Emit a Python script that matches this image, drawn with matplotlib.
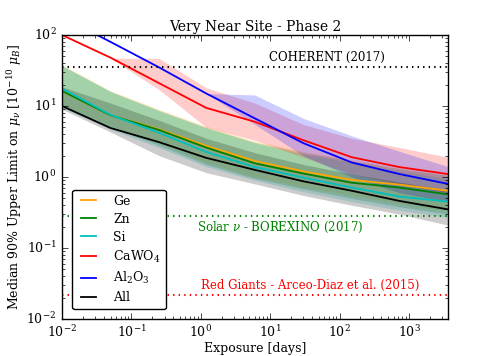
import matplotlib
matplotlib.use("Agg")
import matplotlib.pyplot as plt
import numpy as np

plt.style.use("classic")
plt.rcParams['font.family'] = 'serif'
plt.rcParams['font.serif'] = ['DejaVu Serif']
plt.rcParams['mathtext.fontset'] = 'dejavuserif'

exposure = [0.01, 0.05, 0.25, 1.2, 6, 30, 150, 730, 3650]

ge_med = [16.3, 7.4, 4.7, 2.75, 1.68, 1.2, 0.91, 0.78, 0.64]
ge_lo = [10.5, 5.3, 3.0, 1.6, 1.0, 0.72, 0.55, 0.42, 0.33]
ge_hi = [38, 16.5, 9.0, 5.2, 3.2, 2.3, 1.75, 1.35, 1.1]

zn_med = [16.3, 7.4, 4.6, 2.6, 1.56, 1.12, 0.83, 0.71, 0.57]
zn_lo = [10.0, 5.0, 2.8, 1.5, 0.95, 0.68, 0.5, 0.38, 0.3]
zn_hi = [37, 16, 8.7, 5.0, 3.1, 2.2, 1.7, 1.3, 1.05]

si_med = [17.6, 7.5, 4.2, 2.25, 1.38, 0.98, 0.71, 0.53, 0.45]
si_lo = [9.5, 4.7, 2.6, 1.4, 0.9, 0.62, 0.45, 0.34, 0.27]
si_hi = [37, 16, 8.5, 4.9, 3.0, 2.1, 1.6, 1.2, 0.95]

ca_med = [100, 48, 21, 9.4, 6.0, 3.3, 1.9, 1.38, 1.1]
ca_lo = [100, 47, 17, 5.0, 3.3, 1.9, 1.1, 0.8, 0.6]
ca_hi = [100, 47, 47, 18, 11, 5.5, 3.5, 2.6, 1.9]

al_med = [180, 80, 35, 15, 6.7, 3.0, 1.6, 1.1, 0.8]
al_lo = [180, 80, 35, 15, 5.5, 2.0, 1.0, 0.6, 0.45]
al_hi = [180, 80, 35, 15, 14.3, 6.7, 3.8, 2.3, 1.4]

all_med = [10, 4.9, 3.1, 1.86, 1.26, 0.87, 0.64, 0.46, 0.35]
all_lo = [9, 4.3, 2.0, 1.15, 0.8, 0.55, 0.4, 0.3, 0.21]
all_hi = [18.6, 11, 6.3, 3.5, 2.2, 1.5, 1.1, 0.85, 0.65]

labels = ['Ge', 'Zn', 'Si', r'CaWO$_4$', r'Al$_2$O$_3$', 'All']
colors = ['orange', 'green', 'c', 'r', 'b', 'k']
meds = [ge_med, zn_med, si_med, ca_med, al_med, all_med]
los = [ge_lo, zn_lo, si_lo, ca_lo, al_lo, all_lo]
his = [ge_hi, zn_hi, si_hi, ca_hi, al_hi, all_hi]

coherent = 35
borexino = 0.28
redgiants = 0.022

fig = plt.figure(figsize=(4.98, 3.56), dpi=100, facecolor='white')
ax = fig.add_axes([0.1245, 0.1039, 0.7751, 0.7978])

for lab, c, m, lo, hi in zip(labels, colors, meds, los, his):
    ax.fill_between(exposure, lo, hi, color=c, alpha=0.2, linewidth=0)
    ax.plot(exposure, m, color=c, lw=1.3, label=lab)

ax.axhline(coherent, color='k', ls=':', lw=1.5)
ax.axhline(borexino, color='green', ls=':', lw=1.5)
ax.axhline(redgiants, color='r', ls=':', lw=1.5)

ax.text(65, coherent * 1.12, 'COHERENT (2017)', ha='center', va='bottom', fontsize=8.5, color='k')
ax.text(14, borexino * 0.9, r'Solar $\nu$ - BOREXINO (2017)', ha='center', va='top', fontsize=8.5, color='green')
ax.text(38, redgiants * 1.08, 'Red Giants - Arceo-Diaz et al. (2015)', ha='center', va='bottom', fontsize=8.5, color='r')

ax.set_xscale('log')
ax.set_yscale('log')
ax.set_xlim(0.01, 3650)
ax.set_ylim(0.01, 100)
ax.tick_params(labelsize=9)
ax.set_xlabel('Exposure [days]', fontsize=9, labelpad=1)
ax.set_ylabel(r'Median 90% Upper Limit on $\mu_\nu$ [$10^{-10}$ $\mu_B$]', fontsize=9, labelpad=2)
ax.set_title('Very Near Site - Phase 2', fontsize=10, pad=3)

leg = ax.legend(loc='lower left', fontsize=9, fancybox=True, handlelength=1.8,
                borderaxespad=0.8, labelspacing=0.4, handletextpad=1.1)
leg.get_frame().set_edgecolor('k')

fig.savefig('out.png', dpi=100, facecolor='white')
